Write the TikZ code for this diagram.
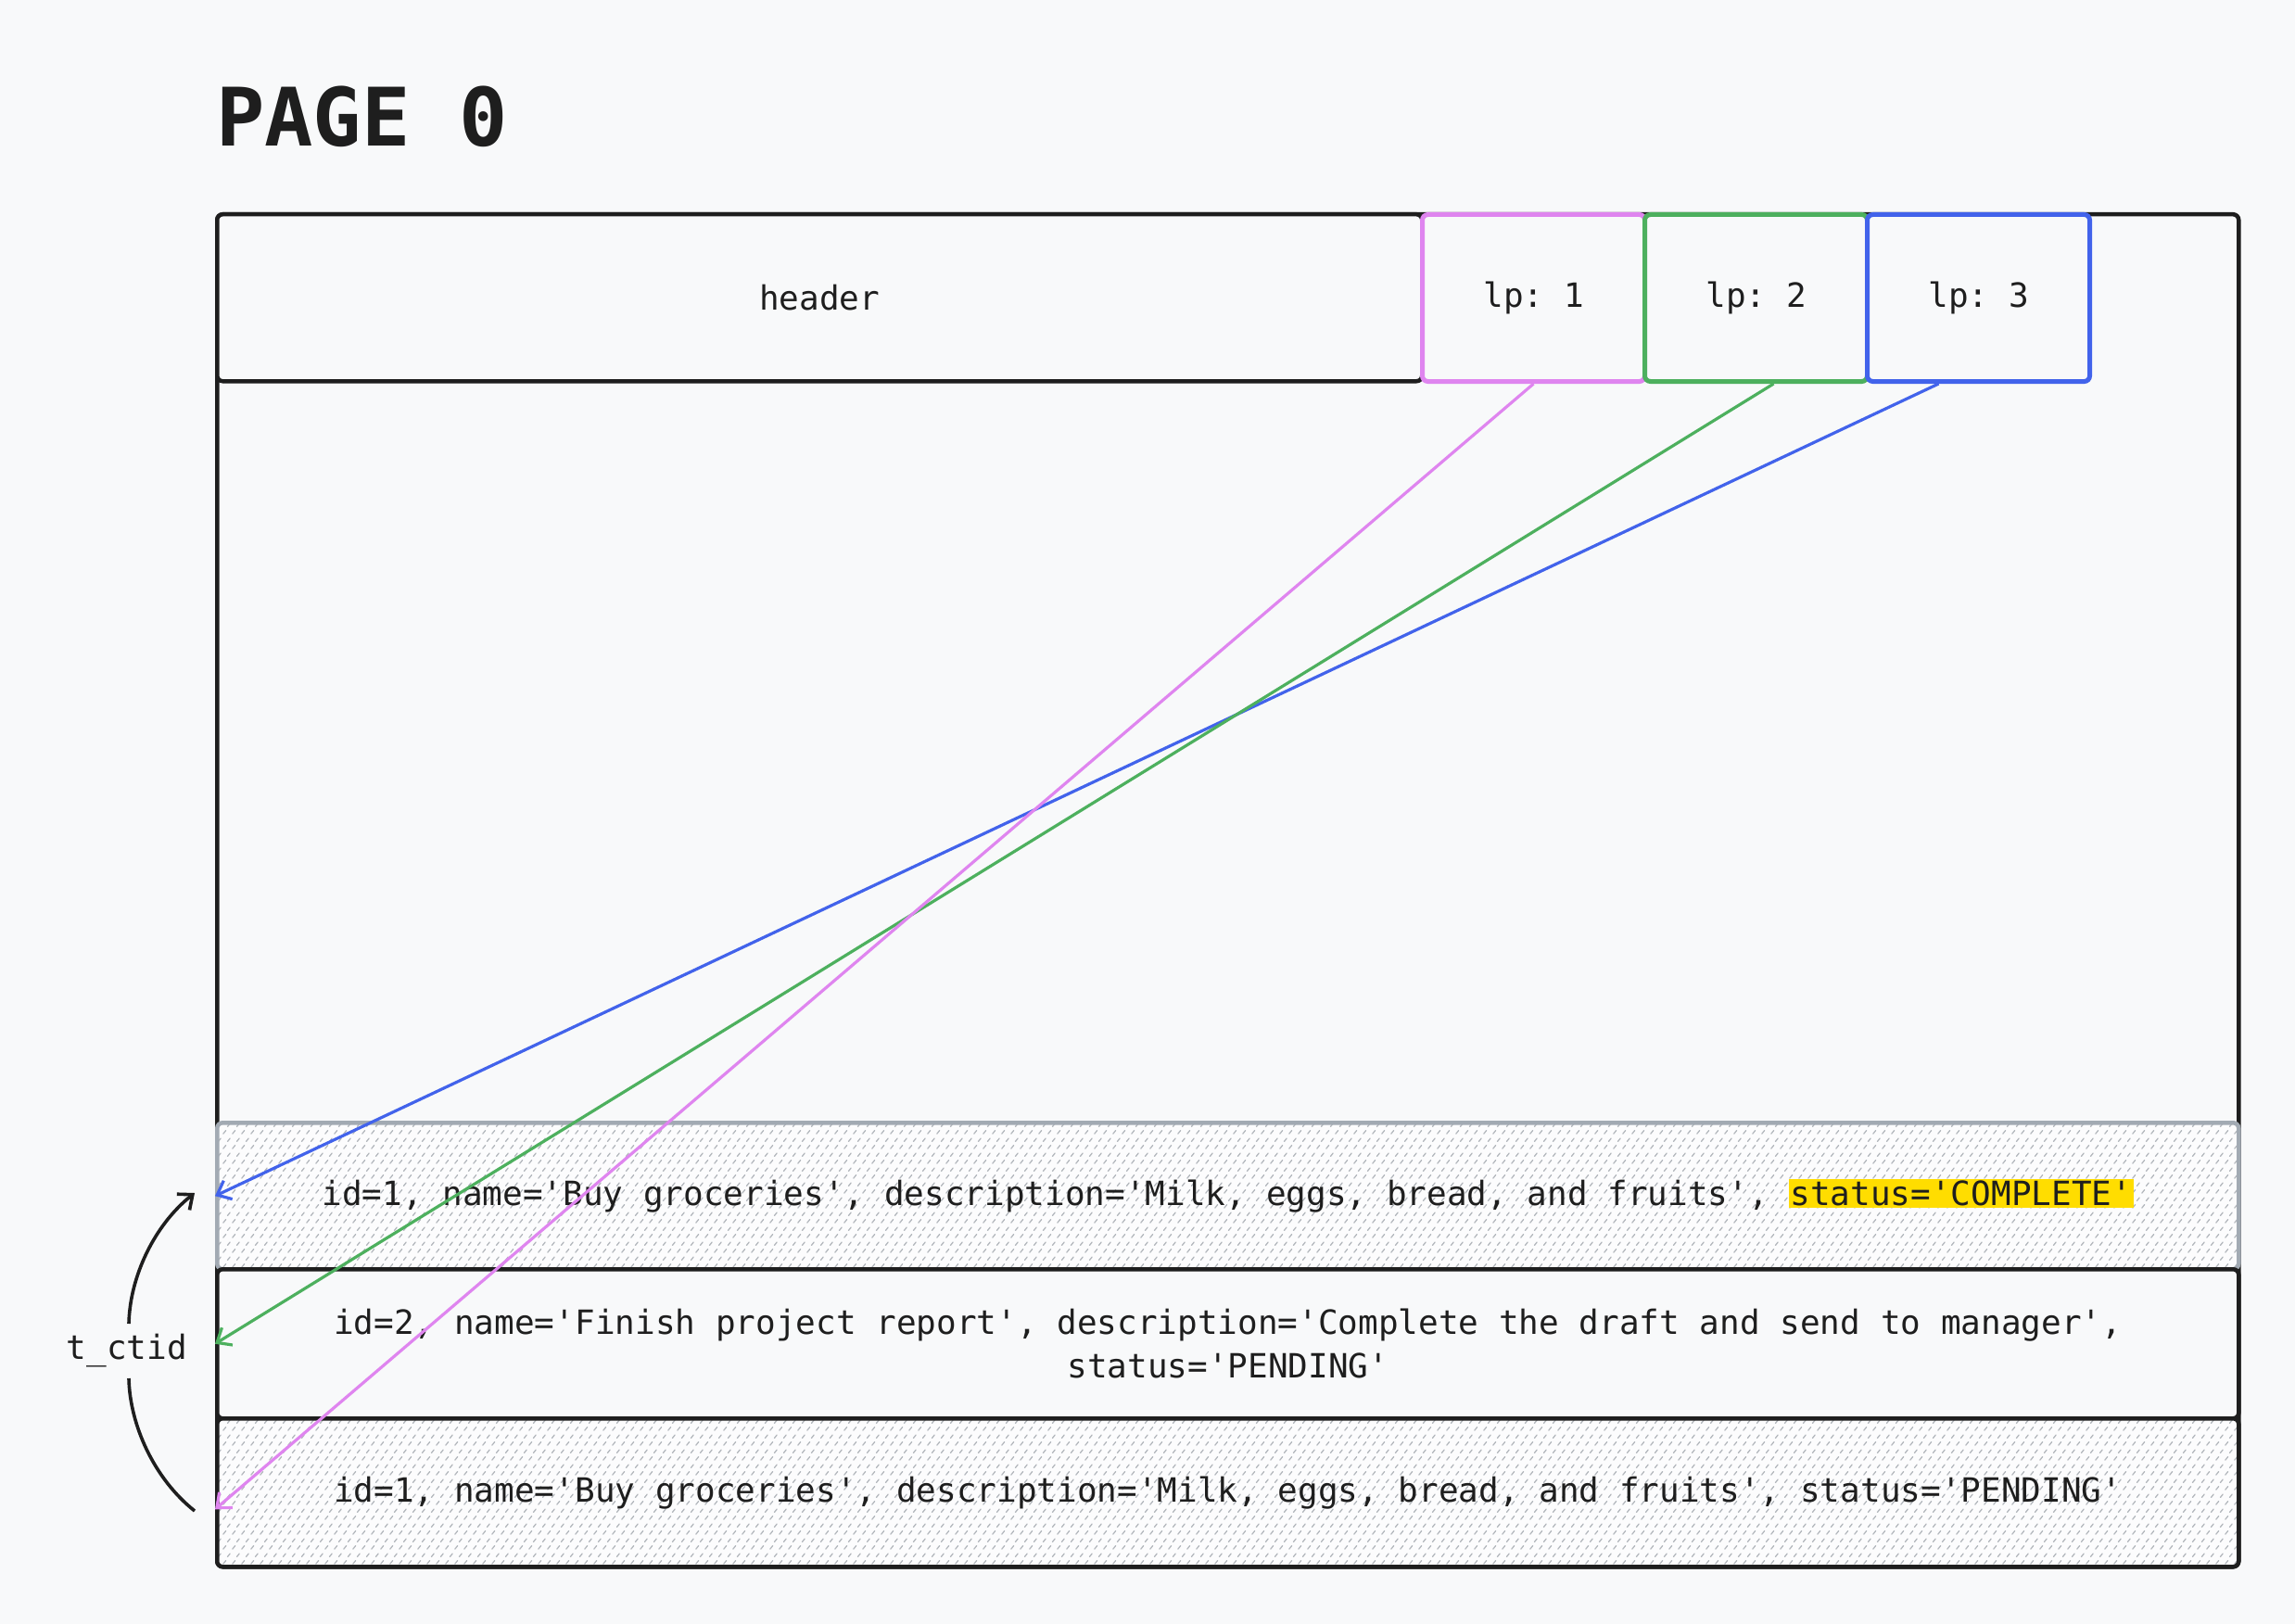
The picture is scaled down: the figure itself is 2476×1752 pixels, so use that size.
\documentclass[tikz,border=0pt]{standalone}
\usepackage{fontspec}
\setmonofont{DejaVu Sans Mono}
\usetikzlibrary{arrows.meta,patterns}
\definecolor{bg}{HTML}{F8F9FA}
\definecolor{rowbg}{HTML}{FCFCFD}
\definecolor{ink}{HTML}{1E1E1E}
\definecolor{rowgray}{HTML}{A2AAB3}
\definecolor{hatch}{HTML}{B4B8BE}
\definecolor{lppink}{HTML}{DF85EF}
\definecolor{lpgreen}{HTML}{4DB05E}
\definecolor{lpblue}{HTML}{4263EB}
\definecolor{hlyellow}{HTML}{FFDD00}
\pgfdeclarepatternformonly{dashhatch}{\pgfqpoint{0pt}{0pt}}{\pgfqpoint{10pt}{16pt}}{\pgfqpoint{10pt}{16pt}}{%
  \pgfsetlinewidth{1.4pt}\pgfsetroundcap
  \pgfpathmoveto{\pgfqpoint{1pt}{1pt}}\pgfpathlineto{\pgfqpoint{4pt}{4.6pt}}
  \pgfpathmoveto{\pgfqpoint{6pt}{9pt}}\pgfpathlineto{\pgfqpoint{9pt}{12.6pt}}\pgfusepath{stroke}}
\tikzset{
  txt/.style={font=\ttfamily\fontsize{36}{47}\selectfont, text=ink},
  slotbox/.style={txt, draw, line width=4.5pt, rounded corners=6pt, fill=bg, anchor=north west, minimum height=180pt, inner sep=0pt},
  lpbox/.style={slotbox, minimum width=240pt, line width=5pt},
  rowbox/.style={txt, line width=4.5pt, rounded corners=6pt, anchor=north west, minimum width=2181pt, align=center, inner sep=0pt},
  hatched/.style={preaction={fill=rowbg}, pattern=dashhatch, pattern color=hatch},
  ptr/.style={line width=3.2pt, -{Straight Barb[length=13pt,width=22pt]}},
}
\begin{document}
\begin{tikzpicture}[x=1pt,y=-1pt]
\fill[bg] (0,0) rectangle (2476,1752);
\useasboundingbox (0,0) rectangle (2476,1752);

\node[anchor=base west, inner sep=0pt, text=ink, font=\ttfamily\bfseries\fontsize{87}{90}\selectfont] (title) at (233,158) {PAGE 0};

\node[draw=ink, line width=4.5pt, rounded corners=6pt, anchor=north west, minimum width=2181pt, minimum height=1459pt, inner sep=0pt] (page) at (232,229) {};

\node[slotbox, draw=ink, minimum width=1300pt] (header) at (232,229) {header};
\node[lpbox, draw=lppink] (lp1) at (1532,229) {lp: 1};
\node[lpbox, draw=lpgreen] (lp2) at (1772,229) {lp: 2};
\node[lpbox, draw=lpblue] (lp3) at (2012,229) {lp: 3};

\node[rowbox, hatched, draw=rowgray, minimum height=158pt] (row1) at (232,1209)
  {id=1, name='Buy groceries', description='Milk, eggs, bread, and fruits', {\setlength{\fboxsep}{2pt}\colorbox{hlyellow}{status='COMPLETE'}}};
\node[rowbox, fill=bg, draw=ink, minimum height=161pt] (row2) at (232,1367)
  {id=2, name='Finish project report', description='Complete the draft and send to manager',\\status='PENDING'};
\node[rowbox, hatched, draw=ink, minimum height=160pt] (row3) at (232,1528)
  {id=1, name='Buy groceries', description='Milk, eggs, bread, and fruits', status='PENDING'};

\draw[ptr, lpblue] ([xshift=-43pt]lp3.south) -- (row1.west);
\draw[ptr, lpgreen] ([xshift=19pt]lp2.south) -- (row2.west);
\draw[ptr, lppink] (lp1.south) -- ([yshift=-18pt]row3.west);

\node[txt, inner sep=0pt] (tctid) at (137,1457) {t\_ctid};
\coordinate (upS) at (139,1428);
\coordinate (upE) at (210,1287);
\coordinate (loS) at (139,1487);
\coordinate (loE) at (210,1630);
\draw[ink, line width=3.6pt, -{Straight Barb[length=13pt,width=22pt]}] (upS) .. controls (140,1378) and (166,1322) .. (upE);
\draw[ink, line width=3.6pt] (loS) .. controls (140,1537) and (166,1595) .. (loE);
\end{tikzpicture}
\end{document}
